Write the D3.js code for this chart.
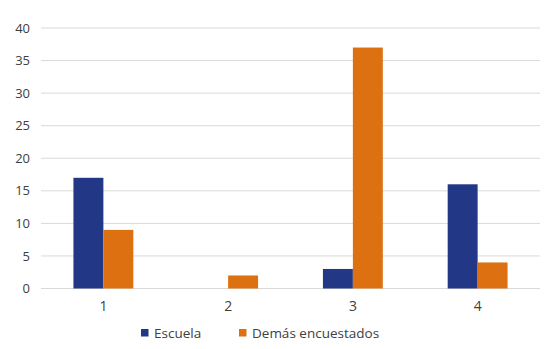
<!DOCTYPE html>
<html><head><meta charset="utf-8">
<script src="https://cdn.jsdelivr.net/npm/d3@7"></script>
<style>body{margin:0;background:#fff}svg{display:block}</style>
</head><body><svg id="c" width="550" height="349"></svg>
<script>
const categories = ["1","2","3","4"];
const seriesNames = ["Escuela","Demás encuestados"];
const escuela = [17,0,3,16];
const demas = [9,2,37,4];
const yTicks = [0,5,10,15,20,25,30,35,40];
const colors = ["#233787","#dd7112"];

(function(){
const svg = d3.select("#c");
const mLeft = 41, mRight = 540, mTop = 28, mBottom = 288.5;
const font = "'Open Sans', sans-serif";
const x = d3.scaleBand().domain(categories).range([mLeft,mRight]).padding(0);
const y = d3.scaleLinear().domain([0,40]).range([mBottom,mTop]);
const inner = d3.scaleBand().domain(seriesNames).range([0, x.bandwidth()*0.48]);

svg.append("g").selectAll("line").data(yTicks).join("line")
  .attr("x1",mLeft).attr("x2",mRight)
  .attr("y1",d=>y(d)).attr("y2",d=>y(d))
  .attr("stroke","#d9d9d9").attr("stroke-width",1);

const yAxis = svg.append("g").attr("transform",`translate(${mLeft},0)`)
  .call(d3.axisLeft(y).tickValues(yTicks).tickSize(0).tickPadding(11));
yAxis.select(".domain").remove();
yAxis.selectAll("text").attr("font-family",font).attr("font-size",13).attr("fill","#404040");

const data = [escuela, demas];
const groups = svg.append("g").selectAll("g").data(categories).join("g")
  .attr("transform",c=>`translate(${x(c)+x.bandwidth()*0.26},0)`);
groups.selectAll("rect").data((c,i)=>seriesNames.map((s,j)=>({s,v:data[j][i],j})))
  .join("rect")
  .attr("x",d=>inner(d.s)).attr("width",inner.bandwidth())
  .attr("y",d=>y(d.v)).attr("height",d=>y(0)-y(d.v))
  .attr("fill",d=>colors[d.j]);

const xAxis = svg.append("g").attr("transform",`translate(0,${mBottom})`)
  .call(d3.axisBottom(x).tickSize(0).tickPadding(13));
xAxis.select(".domain").remove();
xAxis.selectAll("text").attr("font-family",font).attr("font-size",14).attr("fill","#404040");

const legX = [141, 239];
const leg = svg.append("g").selectAll("g").data(seriesNames).join("g")
  .attr("transform",(d,i)=>`translate(${legX[i]},329)`);
leg.append("rect").attr("width",7.5).attr("height",7.5).attr("fill",(d,i)=>colors[i]);
leg.append("text").attr("x",13).attr("y",8.5).text(d=>d)
  .attr("font-family",font).attr("font-size",13.5).attr("fill","#404040");
})();
</script></body></html>
